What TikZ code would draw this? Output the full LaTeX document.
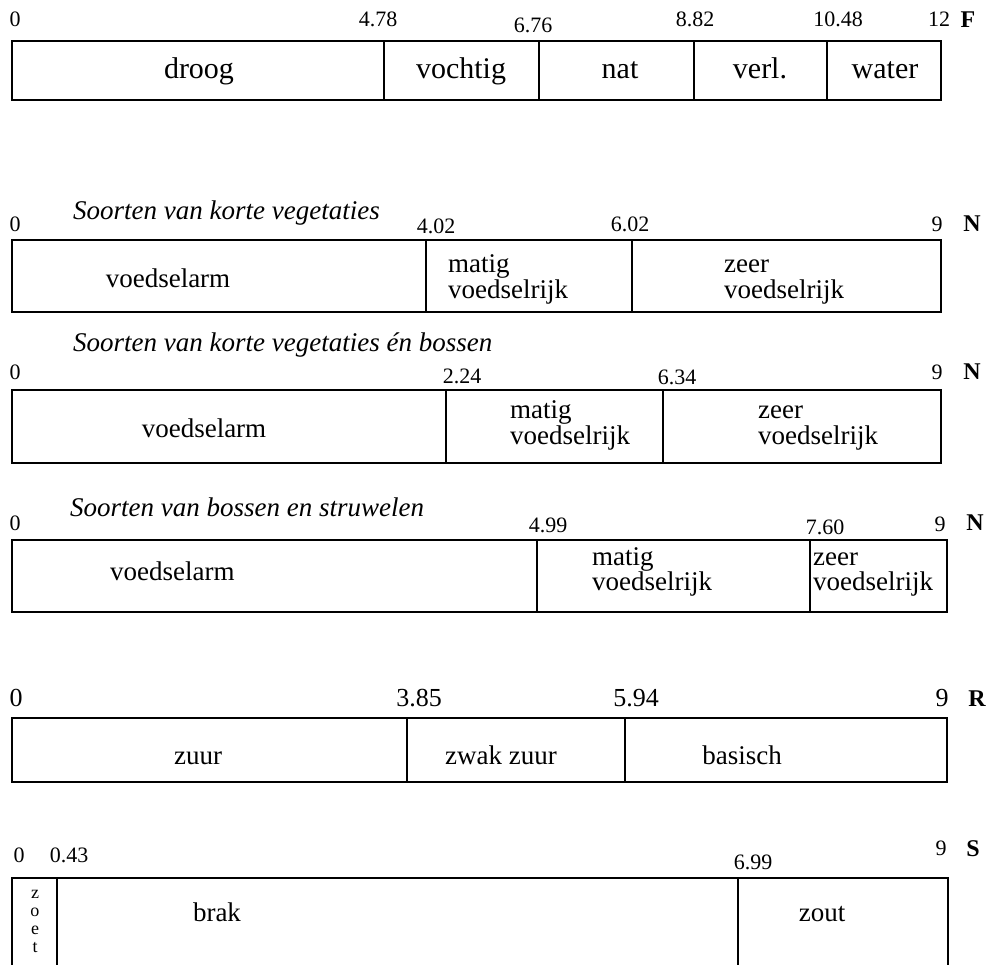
\documentclass[tikz,border=0pt]{standalone}
\usepackage{fontspec}
\setmainfont{Liberation Serif}
\tikzset{
  lab/.style={font=\fontsize{27}{30}\selectfont, inner sep=0pt, anchor=base},
  labw/.style={font=\fontsize{27}{30}\selectfont, inner sep=0pt, anchor=base west},
  flab/.style={font=\fontsize{30}{33}\selectfont, inner sep=0pt, anchor=base},
  num/.style={font=\fontsize{22}{24}\selectfont, inner sep=0pt, anchor=base},
  rnum/.style={font=\fontsize{26}{28}\selectfont, inner sep=0pt, anchor=base},
  axisname/.style={font=\bfseries\fontsize{24}{26}\selectfont, inner sep=0pt, anchor=base},
  ttl/.style={font=\itshape\fontsize{27}{30}\selectfont, inner sep=0pt, anchor=base west},
  zl/.style={font=\fontsize{18}{20}\selectfont, inner sep=0pt, anchor=base},
  frame/.style={line width=1.2pt},
  divider/.style={line width=1.6pt},
}
\begin{document}
\begin{tikzpicture}[x=1pt,y=-1pt]
\useasboundingbox (0,0) rectangle (988,965);

% ---------- F ----------
\draw[frame] (12,41) rectangle (941,100);
\coordinate (f1t) at (384,41); \coordinate (f1b) at (384,100);
\coordinate (f2t) at (539,41); \coordinate (f2b) at (539,100);
\coordinate (f3t) at (694,41); \coordinate (f3b) at (694,100);
\coordinate (f4t) at (827,41); \coordinate (f4b) at (827,100);
\draw[divider] (f1t) -- (f1b);
\draw[divider] (f2t) -- (f2b);
\draw[divider] (f3t) -- (f3b);
\draw[divider] (f4t) -- (f4b);
\node[num] (fn0) at (15,27) {0};
\node[num] (fn1) at (378,27) {4.78};
\node[num] (fn2) at (533,33) {6.76};
\node[num] (fn3) at (695,27) {8.82};
\node[num] (fn4) at (838,27) {10.48};
\node[num] (fn5) at (939,27) {12};
\node[axisname] (fF) at (968,28) {F};
\node[flab] (fl1) at (199,79) {droog};
\node[flab] (fl2) at (461,79) {vochtig};
\node[flab] (fl3) at (620,79) {nat};
\node[flab] (fl4) at (760,79) {verl.};
\node[flab] (fl5) at (885,79) {water};

% ---------- N1 ----------
\node[ttl] (t1) at (73,220) {Soorten van korte vegetaties};
\draw[frame] (12,240) rectangle (941,312);
\coordinate (a1t) at (426,240); \coordinate (a1b) at (426,312);
\coordinate (a2t) at (632,240); \coordinate (a2b) at (632,312);
\draw[divider] (a1t) -- (a1b);
\draw[divider] (a2t) -- (a2b);
\node[num] (an0) at (15,232) {0};
\node[num] (an1) at (436,234) {4.02};
\node[num] (an2) at (630,232) {6.02};
\node[num] (an3) at (937,232) {9};
\node[axisname] (aN) at (972,232) {N};
\node[lab] (al1) at (168,288) {voedselarm};
\node[labw] (al2) at (448,273) {matig};
\node[labw] (al3) at (448,299) {voedselrijk};
\node[labw] (al4) at (724,273) {zeer};
\node[labw] (al5) at (724,299) {voedselrijk};

% ---------- N2 ----------
\node[ttl] (t2) at (73,352) {Soorten van korte vegetaties én bossen};
\draw[frame] (12,390) rectangle (941,463);
\coordinate (b1t) at (446,390); \coordinate (b1b) at (446,463);
\coordinate (b2t) at (663,390); \coordinate (b2b) at (663,463);
\draw[divider] (b1t) -- (b1b);
\draw[divider] (b2t) -- (b2b);
\node[num] (bn0) at (15,380) {0};
\node[num] (bn1) at (462,384) {2.24};
\node[num] (bn2) at (677,385) {6.34};
\node[num] (bn3) at (937,380) {9};
\node[axisname] (bN) at (972,380) {N};
\node[lab] (bl1) at (204,437) {voedselarm};
\node[labw] (bl2) at (510,419) {matig};
\node[labw] (bl3) at (510,445) {voedselrijk};
\node[labw] (bl4) at (758,419) {zeer};
\node[labw] (bl5) at (758,445) {voedselrijk};

% ---------- N3 ----------
\node[ttl] (t3) at (70,516) {Soorten van bossen en struwelen};
\draw[frame] (12,540) rectangle (947,612);
\coordinate (c1t) at (537,540); \coordinate (c1b) at (537,612);
\coordinate (c2t) at (810,540); \coordinate (c2b) at (810,612);
\draw[divider] (c1t) -- (c1b);
\draw[divider] (c2t) -- (c2b);
\node[num] (cn0) at (15,530) {0};
\node[num] (cn1) at (548,532) {4.99};
\node[num] (cn2) at (825,534) {7.60};
\node[num] (cn3) at (940,531) {9};
\node[axisname] (cN) at (975,530) {N};
\node[labw] (cl1) at (110,580) {voedselarm};
\node[labw] (cl2) at (592,565) {matig};
\node[labw] (cl3) at (592,590) {voedselrijk};
\node[labw] (cl4) at (813,565) {zeer};
\node[labw] (cl5) at (813,590) {voedselrijk};

% ---------- R ----------
\draw[frame] (12,718) rectangle (947,782);
\coordinate (r1t) at (407,718); \coordinate (r1b) at (407,782);
\coordinate (r2t) at (625,718); \coordinate (r2b) at (625,782);
\draw[divider] (r1t) -- (r1b);
\draw[frame] (r2t) -- (r2b);
\node[rnum] (rn0) at (16,706) {0};
\node[rnum] (rn1) at (419,706) {3.85};
\node[rnum] (rn2) at (636,706) {5.94};
\node[rnum] (rn3) at (942,706) {9};
\node[axisname] (rR) at (977,706) {R};
\node[lab] (rl1) at (198,764) {zuur};
\node[lab] (rl2) at (501,764) {zwak zuur};
\node[lab] (rl3) at (742,764) {basisch};

% ---------- S ----------
\coordinate (sbl) at (12,970); \coordinate (stl) at (12,878);
\coordinate (str) at (948,878); \coordinate (sbr) at (948,970);
\draw[frame] (sbl) -- (stl) -- (str) -- (sbr);
\coordinate (s1t) at (57,878); \coordinate (s1b) at (57,970);
\coordinate (s2t) at (738,878); \coordinate (s2b) at (738,970);
\draw[divider] (s1t) -- (s1b);
\draw[divider] (s2t) -- (s2b);
\node[num] (sn0) at (19,862) {0};
\node[num] (sn1) at (69,862) {0.43};
\node[num] (sn2) at (753,869) {6.99};
\node[num] (sn3) at (941,855) {9};
\node[axisname] (sS) at (973,856) {S};
\node[lab] (sl1) at (217,921) {brak};
\node[lab] (sl2) at (822,921) {zout};
\node[zl] (z1) at (35,898) {z};
\node[zl] (z2) at (35,916) {o};
\node[zl] (z3) at (35,934) {e};
\node[zl] (z4) at (35,952) {t};
\end{tikzpicture}
\end{document}
